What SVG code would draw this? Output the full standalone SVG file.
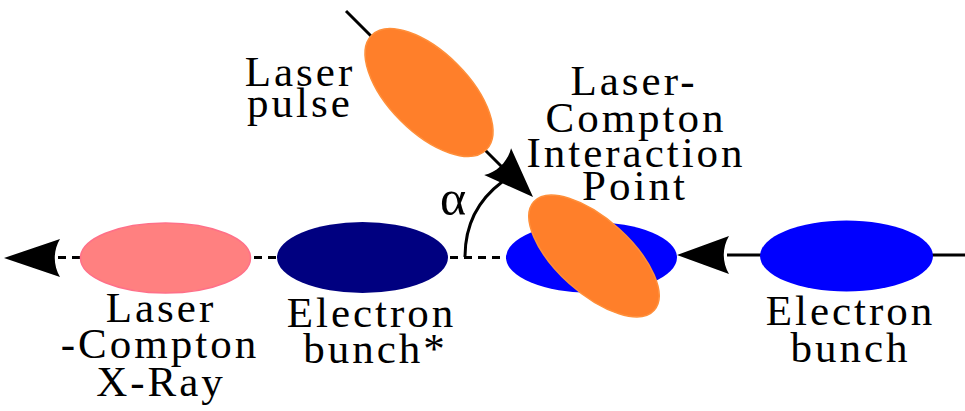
<svg xmlns="http://www.w3.org/2000/svg" width="965" height="411" viewBox="0 0 965 411">
<style>
text{font-family:'Liberation Serif','Times New Roman',serif;font-size:43px;letter-spacing:3px;fill:#000;text-anchor:middle}
.ln{stroke:#000;stroke-width:3;fill:none}
.dash{stroke-dasharray:8,6}
.ah{fill:#000;stroke:none}
.orange{fill:#ff7f2a;stroke:#ff8f3a;stroke-width:1.5}
</style>
<rect width="965" height="411" fill="#fff"/>
<g id="connectors">
<line class="ln dash" x1="58" y1="257.5" x2="508" y2="257.5"/>
<line class="ln" x1="727" y1="255" x2="965" y2="255"/>
<path class="ah" d="M4,258 L60,239 C53,251 53,265 60,277 Z"/>
<path class="ah" d="M677,255 L729,236 C722,248 722,262 729,274 Z"/>
<line class="ln" x1="346" y1="11" x2="505" y2="170"/>
<path class="ln" d="M465,257 C465,226 478,200 502,182"/>
</g>
<g id="xray">
<ellipse cx="165.5" cy="258" rx="85" ry="35" fill="#ff8080" stroke="#ff7088" stroke-width="1.5"/>
<text x="161" y="322">Laser</text>
<text x="160" y="358">-Compton</text>
<text x="161" y="396">X-Ray</text>
</g>
<g id="bunch-star">
<ellipse cx="362.5" cy="257.5" rx="85.5" ry="35.5" fill="#000080"/>
<text x="371.5" y="327">Electron</text>
<text x="375.5" y="363">bunch*</text>
</g>
<g id="ip">
<ellipse cx="591.5" cy="257.5" rx="85.5" ry="35.5" fill="#0000ff"/>
<ellipse class="orange" cx="594" cy="256" rx="81" ry="37" transform="rotate(42 594 256)"/>
<text x="634" y="95">Laser-</text>
<text x="636" y="132">Compton</text>
<text x="636" y="167">Interaction</text>
<text x="635" y="200">Point</text>
</g>
<g id="laser-pulse">
<ellipse class="orange" cx="429" cy="92.5" rx="81" ry="40" transform="rotate(45 429 92.5)"/>
<text x="300" y="86">Laser</text>
<text x="300" y="117">pulse</text>
</g>
<g id="laser-arrow">
<path class="ah" transform="translate(533,197) rotate(45)" d="M0,0 L-50,-19 C-43,-7 -43,7 -50,19 Z"/>
<text x="453" y="215" style="font-size:50px;letter-spacing:0">α</text>
</g>
<g id="bunch">
<ellipse cx="846.5" cy="256" rx="86.5" ry="35.5" fill="#0000ff"/>
<text x="850.5" y="325">Electron</text>
<text x="850.5" y="362">bunch</text>
</g>
</svg>
